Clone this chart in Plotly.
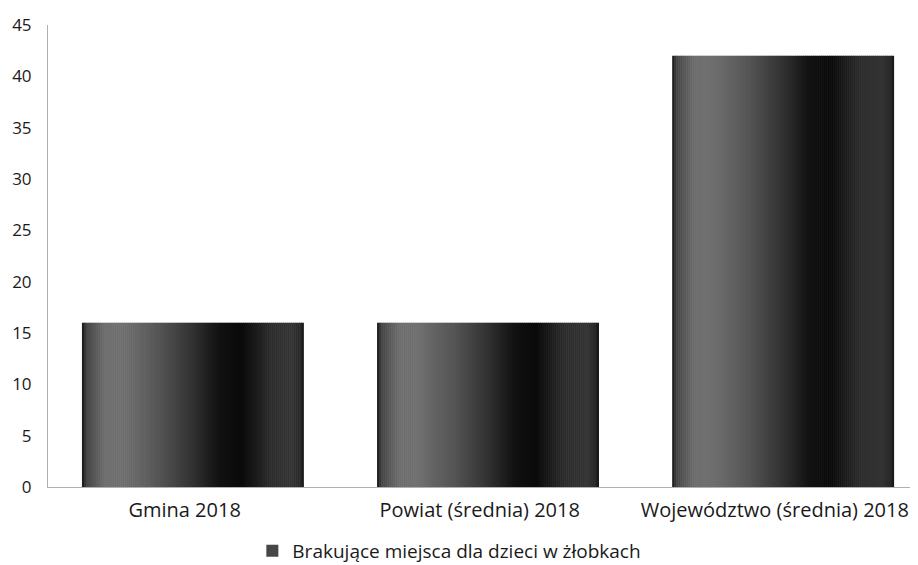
import plotly.graph_objects as go
import numpy as np

categories = ["Gmina 2018", "Powiat (średnia) 2018", "Województwo (średnia) 2018"]
values = [16, 16, 42]
series_name = "Brakujące miejsca dla dzieci w żłobkach"
y_ticks = [0, 5, 10, 15, 20, 25, 30, 35, 40, 45]

# styling: horizontal shading profile of the bars (position within bar -> grey level)
prof_t = [0.0, 0.02, 0.1, 0.18, 0.35, 0.5, 0.62, 0.72, 0.85, 0.95, 0.99, 1.0]
prof_g = [20, 70, 110, 112, 85, 50, 18, 10, 45, 52, 40, 15]

bar_w = 0.75
n_strips = 110
sw = bar_w / n_strips
xs = list(range(len(categories)))

fig = go.Figure()
for i in range(n_strips):
    t = (i + 0.5) / n_strips
    g = int(np.interp(t, prof_t, prof_g))
    fig.add_trace(go.Bar(
        x=xs, y=values, width=[sw * 1.3] * len(xs), offset=-bar_w / 2 + i * sw,
        marker=dict(color=f"rgb({g},{g},{g})", line=dict(width=0)),
        showlegend=False, hoverinfo="skip",
    ))
# legend entry
fig.add_trace(go.Bar(
    x=xs, y=[None] * len(xs), name=series_name,
    marker=dict(color="rgb(70,70,70)", line=dict(width=0)), showlegend=True,
))

# the page body adds an 8px margin, so the figure is sized to fit the window
W, H = 910, 557
fig.update_layout(
    width=W, height=H,
    margin=dict(l=40, r=0, t=17, b=78),
    barmode="overlay",
    plot_bgcolor="white", paper_bgcolor="white",
    font=dict(family="Open Sans", size=19, color="#1a1a1a"),
    showlegend=True,
    legend=dict(orientation="h", xref="container", x=0.485, xanchor="center",
                yref="container", y=(H - 543) / H, yanchor="middle",
                font=dict(size=19)),
    xaxis=dict(range=[-0.49, 2.458], tickvals=xs, ticktext=categories,
               showgrid=False, showline=True, linecolor="#b0b0b0", linewidth=1,
               ticks="", zeroline=False, automargin=False,
               tickfont=dict(size=20), ticklabelstandoff=5, ticklabelshift=-8),
    yaxis=dict(range=[0, 45], tickvals=y_ticks, showgrid=False, showline=True,
               linecolor="#b0b0b0", linewidth=1, ticks="", zeroline=False,
               automargin=False, tickfont=dict(size=17), ticklabelstandoff=12),
)

fig.write_html("out.html")
